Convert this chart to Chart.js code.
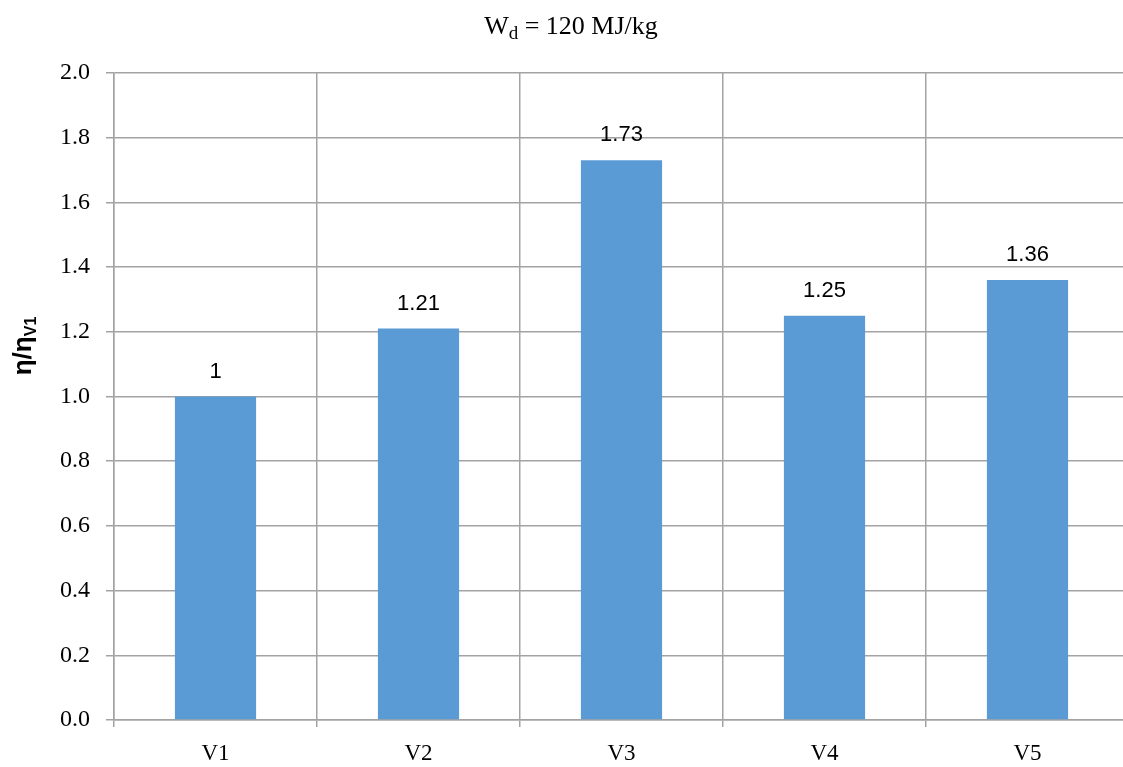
<!DOCTYPE html>
<html>
<head>
<meta charset="utf-8">
<script src="https://cdn.jsdelivr.net/npm/chart.js@4.4.1/dist/chart.umd.min.js"></script>
<style>
  html, body { margin: 0; padding: 0; background: #fff; overflow: hidden; width: 1123px; height: 767px; }
  canvas { display: block; }
</style>
</head>
<body>
<canvas id="c" width="1131" height="767" style="width:1131px;height:767px"></canvas>
<script>
const categories = ['V1', 'V2', 'V3', 'V4', 'V5'];
const ratioValues = [1, 1.21, 1.73, 1.25, 1.36];
const valueLabels = ['1', '1.21', '1.73', '1.25', '1.36'];
const yTickValues = [0, 0.2, 0.4, 0.6, 0.8, 1.0, 1.2, 1.4, 1.6, 1.8, 2.0];
const titleMain = 'W';
const titleSub = 'd';
const titleRest = ' = 120 MJ/kg';
const yTitleMain = 'η/η';
const yTitleSub = 'V1';

const SERIF = '"Liberation Serif", "DejaVu Serif", serif';
const SANS = '"Liberation Sans", Arial, sans-serif';
const GRID = '#a3a3a3';

const titlePlugin = {
  id: 'customTitle',
  afterDraw(chart) {
    const ctx = chart.ctx;
    ctx.save();
    ctx.fillStyle = '#000';
    ctx.textBaseline = 'alphabetic';
    ctx.textAlign = 'left';
    const mainFont = '26px ' + SERIF;
    const subFont = '19px ' + SERIF;
    ctx.font = mainFont;
    const w1 = ctx.measureText(titleMain).width;
    const w3 = ctx.measureText(titleRest).width;
    ctx.font = subFont;
    const w2 = ctx.measureText(titleSub).width;
    const total = w1 + w2 + w3;
    let x = 571 - total / 2;
    const base = 34;
    ctx.font = mainFont; ctx.fillText(titleMain, x, base); x += w1;
    ctx.font = subFont; ctx.fillText(titleSub, x, base + 5); x += w2;
    ctx.font = mainFont; ctx.fillText(titleRest, x, base);

    // y axis title, rotated
    ctx.translate(31, 346);
    ctx.rotate(-Math.PI / 2);
    const mf = 'bold 26px ' + SANS;
    const sf = 'bold 16px ' + SANS;
    ctx.font = mf;
    const a = ctx.measureText(yTitleMain).width;
    ctx.font = sf;
    const b = ctx.measureText(yTitleSub).width;
    let tx = -(a + b) / 2;
    ctx.font = mf; ctx.fillText(yTitleMain, tx, 0); tx += a;
    ctx.font = sf; ctx.fillText(yTitleSub, tx, 5);
    ctx.restore();
  }
};

const labelPlugin = {
  id: 'valueLabels',
  afterDatasetsDraw(chart) {
    const ctx = chart.ctx;
    const meta = chart.getDatasetMeta(0);
    ctx.save();
    ctx.fillStyle = '#000';
    ctx.font = '22px ' + SANS;
    ctx.textAlign = 'center';
    ctx.textBaseline = 'alphabetic';
    meta.data.forEach((bar, i) => {
      ctx.fillText(valueLabels[i], bar.x, bar.y - 19);
    });
    ctx.restore();
  }
};

new Chart(document.getElementById('c'), {
  type: 'bar',
  data: {
    labels: categories,
    datasets: [{
      data: ratioValues,
      backgroundColor: '#5B9BD5',
      borderWidth: 0,
      barPercentage: 0.4,
      categoryPercentage: 1.0
    }]
  },
  options: {
    responsive: false,
    animation: false,
    devicePixelRatio: 1,
    layout: { padding: { top: 73, left: 0, right: 2, bottom: 0 } },
    plugins: {
      legend: { display: false },
      title: { display: false },
      tooltip: { enabled: false }
    },
    scales: {
      x: {
        grid: { display: true, offset: true, color: GRID, lineWidth: 1.5, tickLength: 7, drawTicks: true },
        border: { color: GRID, width: 1.5 },
        ticks: { color: '#000', font: { family: SERIF, size: 23 }, padding: 13, maxRotation: 0 },
        afterFit(scale) { scale.height = 47; }
      },
      y: {
        min: 0,
        max: 2,
        afterBuildTicks(scale) { scale.ticks = yTickValues.map(v => ({ value: v })); },
        grid: { color: GRID, lineWidth: 1.5, tickLength: 8 },
        border: { color: GRID, width: 1.5 },
        ticks: {
          color: '#000',
          font: { family: SERIF, size: 24 },
          padding: 16,
          callback: (v) => Number(v).toFixed(1)
        },
        afterFit(scale) { scale.width = 114; }
      }
    }
  },
  plugins: [titlePlugin, labelPlugin]
});
</script>
</body>
</html>
